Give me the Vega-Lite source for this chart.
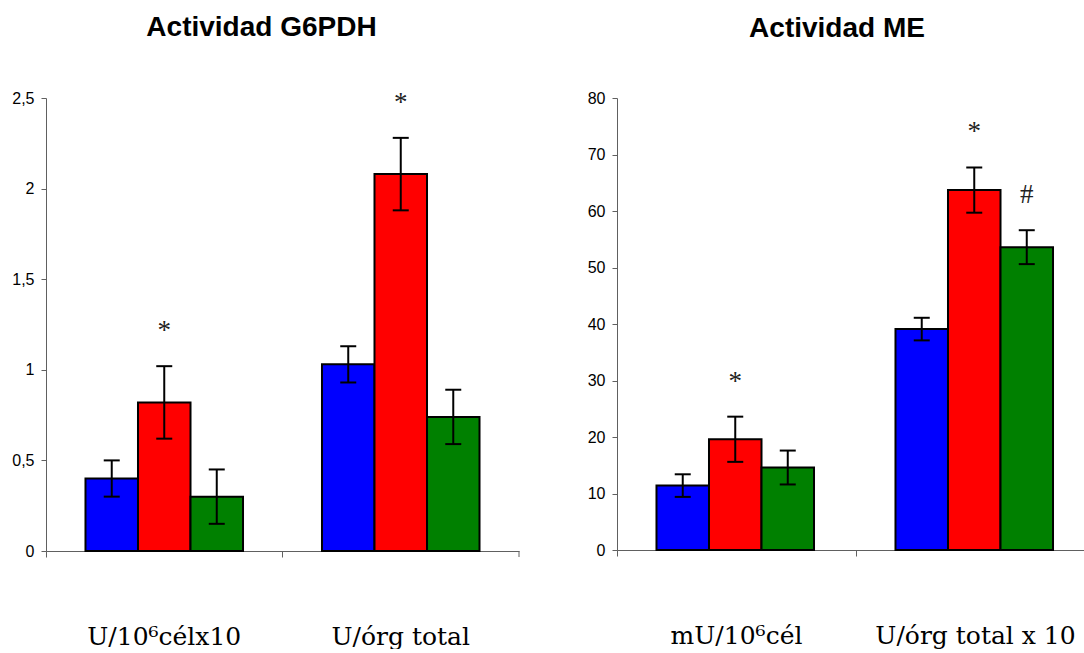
{
  "$schema": "https://vega.github.io/schema/vega-lite/v6.json",
  "padding": {"left": 10, "top": 13, "right": -10, "bottom": 0},
  "spacing": 61,
  "background": "white",
  "config": {
    "view": {"stroke": null},
    "axis": {
      "grid": false,
      "title": null,
      "domainColor": "#606060",
      "tickColor": "#606060",
      "labelColor": "black"
    },
    "axisY": {
      "labelFont": "Liberation Sans",
      "labelFontSize": 16,
      "tickSize": 5,
      "labelPadding": 7,
      "minExtent": 36,
      "maxExtent": 36
    },
    "axisX": {
      "labelFont": "DejaVu Serif",
      "labelFontSize": 25,
      "labelAngle": 0,
      "labelPadding": 67,
      "labelLimit": 0,
      "tickSize": 6,
      "bandPosition": 0
    },
    "title": {
      "font": "Liberation Sans",
      "fontSize": 28,
      "fontWeight": "bold",
      "color": "black",
      "anchor": "middle",
      "baseline": "alphabetic",
      "offset": 47
    }
  },
  "datasets": {
    "g6pdh": [
      {"unidad": "U/10⁶célx10", "grupo": "Control", "media": 0.40, "inf": 0.30, "sup": 0.50, "marca": ""},
      {"unidad": "U/10⁶célx10", "grupo": "Grupo 2", "media": 0.82, "inf": 0.62, "sup": 1.02, "marca": "*"},
      {"unidad": "U/10⁶célx10", "grupo": "Grupo 3", "media": 0.30, "inf": 0.15, "sup": 0.45, "marca": ""},
      {"unidad": "U/órg total", "grupo": "Control", "media": 1.03, "inf": 0.93, "sup": 1.13, "marca": ""},
      {"unidad": "U/órg total", "grupo": "Grupo 2", "media": 2.08, "inf": 1.88, "sup": 2.28, "marca": "*"},
      {"unidad": "U/órg total", "grupo": "Grupo 3", "media": 0.74, "inf": 0.59, "sup": 0.89, "marca": ""}
    ],
    "me": [
      {"unidad": "mU/10⁶cél", "grupo": "Control", "media": 11.4, "inf": 9.4, "sup": 13.4, "marca": ""},
      {"unidad": "mU/10⁶cél", "grupo": "Grupo 2", "media": 19.6, "inf": 15.6, "sup": 23.6, "marca": "*"},
      {"unidad": "mU/10⁶cél", "grupo": "Grupo 3", "media": 14.6, "inf": 11.6, "sup": 17.6, "marca": ""},
      {"unidad": "U/órg total x 10", "grupo": "Control", "media": 39.1, "inf": 37.1, "sup": 41.1, "marca": ""},
      {"unidad": "U/órg total x 10", "grupo": "Grupo 2", "media": 63.7, "inf": 59.7, "sup": 67.7, "marca": "*"},
      {"unidad": "U/órg total x 10", "grupo": "Grupo 3", "media": 53.6, "inf": 50.6, "sup": 56.6, "marca": "#"}
    ]
  },
  "hconcat": [
    {
      "width": 473,
      "height": 453,
      "title": {"text": "Actividad G6PDH", "dx": -21},
      "data": {"name": "g6pdh"},
      "encoding": {
        "x": {
          "field": "unidad", "type": "nominal", "sort": null,
          "scale": {"paddingInner": 0, "paddingOuter": 0}
        }
      },
      "layer": [
        {
          "mark": {"type": "bar", "stroke": "black", "strokeWidth": 2},
          "encoding": {
            "xOffset": {"field": "grupo", "type": "nominal", "sort": null, "scale": {"paddingInner": 0, "paddingOuter": 0.752}},
            "y": {
              "field": "media", "type": "quantitative",
              "scale": {"domain": [0, 2.5], "nice": false},
              "axis": {"values": [0, 0.5, 1, 1.5, 2, 2.5], "labelExpr": "replace(format(datum.value, '~g'), '.', ',')"}
            },
            "color": {
              "field": "grupo", "type": "nominal", "legend": null,
              "scale": {"domain": ["Control", "Grupo 2", "Grupo 3"], "range": ["#0000ff", "#ff0000", "#008000"]}
            }
          }
        },
        {
          "mark": {"type": "rule", "color": "black", "strokeWidth": 2},
          "encoding": {
            "xOffset": {"field": "grupo", "type": "nominal", "sort": null, "scale": {"paddingInner": 0, "paddingOuter": 0.752}},
            "y": {"field": "inf", "type": "quantitative"},
            "y2": {"field": "sup"}
          }
        },
        {
          "mark": {"type": "tick", "color": "black", "thickness": 2, "size": 16, "opacity": 1},
          "encoding": {
            "xOffset": {"field": "grupo", "type": "nominal", "sort": null, "scale": {"paddingInner": 0, "paddingOuter": 0.752}},
            "y": {"field": "inf", "type": "quantitative"}
          }
        },
        {
          "mark": {"type": "tick", "color": "black", "thickness": 2, "size": 16, "opacity": 1},
          "encoding": {
            "xOffset": {"field": "grupo", "type": "nominal", "sort": null, "scale": {"paddingInner": 0, "paddingOuter": 0.752}},
            "y": {"field": "sup", "type": "quantitative"}
          }
        },
        {
          "mark": {"type": "text", "font": "Liberation Serif", "fontSize": 27, "color": "#222222", "baseline": "alphabetic", "dy": -27},
          "encoding": {
            "xOffset": {"field": "grupo", "type": "nominal", "sort": null, "scale": {"paddingInner": 0, "paddingOuter": 0.752}},
            "y": {"field": "sup", "type": "quantitative"},
            "text": {"field": "marca"}
          }
        },
        {
          "transform": [{"filter": "datum.grupo == 'Control'"}],
          "mark": {"type": "rule", "color": "#606060", "strokeWidth": 1, "y2Offset": 6},
          "encoding": {
            "x": {"field": "unidad", "type": "nominal", "sort": null, "bandPosition": 1},
            "y": {"datum": 0},
            "y2": {"datum": 0}
          }
        }
      ]
    },
    {
      "width": 478,
      "height": 452,
      "title": {"text": "Actividad ME", "dx": -19},
      "data": {"name": "me"},
      "encoding": {
        "x": {
          "field": "unidad", "type": "nominal", "sort": null,
          "scale": {"paddingInner": 0, "paddingOuter": 0}
        }
      },
      "layer": [
        {
          "mark": {"type": "bar", "stroke": "black", "strokeWidth": 2},
          "encoding": {
            "xOffset": {"field": "grupo", "type": "nominal", "sort": null, "scale": {"paddingInner": 0, "paddingOuter": 0.74}},
            "y": {
              "field": "media", "type": "quantitative",
              "scale": {"domain": [0, 80], "nice": false},
              "axis": {"values": [0, 10, 20, 30, 40, 50, 60, 70, 80]}
            },
            "color": {
              "field": "grupo", "type": "nominal", "legend": null,
              "scale": {"domain": ["Control", "Grupo 2", "Grupo 3"], "range": ["#0000ff", "#ff0000", "#008000"]}
            }
          }
        },
        {
          "mark": {"type": "rule", "color": "black", "strokeWidth": 2},
          "encoding": {
            "xOffset": {"field": "grupo", "type": "nominal", "sort": null, "scale": {"paddingInner": 0, "paddingOuter": 0.74}},
            "y": {"field": "inf", "type": "quantitative"},
            "y2": {"field": "sup"}
          }
        },
        {
          "mark": {"type": "tick", "color": "black", "thickness": 2, "size": 16, "opacity": 1},
          "encoding": {
            "xOffset": {"field": "grupo", "type": "nominal", "sort": null, "scale": {"paddingInner": 0, "paddingOuter": 0.74}},
            "y": {"field": "inf", "type": "quantitative"}
          }
        },
        {
          "mark": {"type": "tick", "color": "black", "thickness": 2, "size": 16, "opacity": 1},
          "encoding": {
            "xOffset": {"field": "grupo", "type": "nominal", "sort": null, "scale": {"paddingInner": 0, "paddingOuter": 0.74}},
            "y": {"field": "sup", "type": "quantitative"}
          }
        },
        {
          "mark": {"type": "text", "font": "Liberation Serif", "fontSize": 27, "color": "#222222", "baseline": "alphabetic", "dy": -27},
          "encoding": {
            "xOffset": {"field": "grupo", "type": "nominal", "sort": null, "scale": {"paddingInner": 0, "paddingOuter": 0.74}},
            "y": {"field": "sup", "type": "quantitative"},
            "text": {"field": "marca"}
          }
        }
      ]
    }
  ]
}
